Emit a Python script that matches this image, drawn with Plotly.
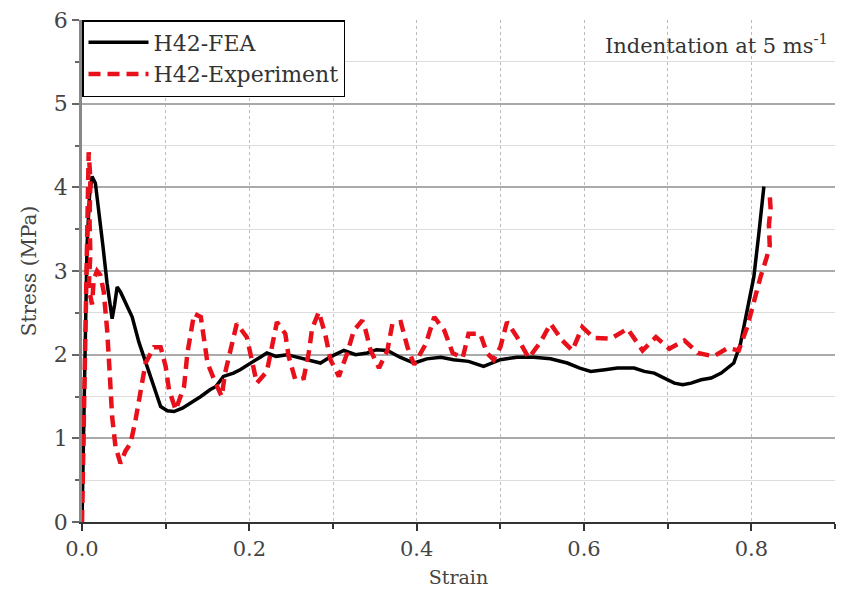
import plotly.graph_objects as go

# ---------------- data ----------------
fea_strain = [0, 0.002, 0.004, 0.006, 0.009, 0.012, 0.016, 0.020, 0.025, 0.030, 0.034, 0.036,
              0.039, 0.042, 0.046, 0.052, 0.060, 0.068, 0.078, 0.086, 0.094, 0.102, 0.110,
              0.120, 0.130, 0.142, 0.153, 0.160, 0.169, 0.181, 0.189, 0.201, 0.213, 0.221,
              0.232, 0.245, 0.261, 0.273, 0.285, 0.298, 0.313, 0.327, 0.341, 0.352, 0.365,
              0.380, 0.397, 0.412, 0.429, 0.444, 0.462, 0.480, 0.500, 0.520, 0.540, 0.560,
              0.580, 0.595, 0.608, 0.625, 0.640, 0.660, 0.672, 0.684, 0.696, 0.708, 0.718,
              0.728, 0.740, 0.752, 0.764, 0.779, 0.787, 0.795, 0.803, 0.809, 0.815]
fea_stress = [0, 1.2, 2.4, 3.3, 3.9, 4.13, 4.05, 3.75, 3.3, 2.85, 2.55, 2.43,
              2.6, 2.81, 2.75, 2.62, 2.45, 2.15, 1.86, 1.6, 1.38, 1.33, 1.32,
              1.36, 1.42, 1.50, 1.58, 1.62, 1.74, 1.78, 1.82, 1.90, 1.97, 2.02,
              1.98, 2.00, 1.96, 1.93, 1.90, 1.98, 2.05, 2.00, 2.02, 2.06, 2.05,
              1.97, 1.90, 1.95, 1.97, 1.94, 1.92, 1.86, 1.94, 1.97, 1.97, 1.95,
              1.90, 1.84, 1.80, 1.82, 1.84, 1.84, 1.80, 1.78, 1.72, 1.66, 1.64,
              1.66, 1.70, 1.72, 1.78, 1.90, 2.13, 2.53, 2.93, 3.45, 4.01]

exp_strain = [0, 0.003, 0.005, 0.006, 0.008, 0.010, 0.009, 0.010, 0.008, 0.012, 0.014, 0.018,
              0.022, 0.026, 0.030, 0.033, 0.036, 0.040, 0.046, 0.052, 0.058, 0.064, 0.070,
              0.076, 0.086, 0.094, 0.100, 0.104, 0.112, 0.122, 0.126, 0.134, 0.142, 0.150,
              0.158, 0.167, 0.171, 0.177, 0.185, 0.197, 0.203, 0.209, 0.221, 0.227, 0.233,
              0.243, 0.247, 0.255, 0.265, 0.271, 0.275, 0.283, 0.291, 0.297, 0.307, 0.317,
              0.325, 0.335, 0.339, 0.345, 0.355, 0.365, 0.371, 0.381, 0.389, 0.397, 0.411,
              0.421, 0.433, 0.443, 0.455, 0.462, 0.476, 0.484, 0.492, 0.500, 0.508, 0.520,
              0.534, 0.548, 0.560, 0.574, 0.586, 0.598, 0.612, 0.632, 0.652, 0.670, 0.686,
              0.702, 0.720, 0.736, 0.755, 0.772, 0.785, 0.795, 0.803, 0.811, 0.818, 0.822,
              0.821, 0.823, 0.822]
exp_stress = [0, 1.5, 2.7, 3.5, 4.42, 4.1, 3.6, 3.2, 2.8, 2.6, 2.9, 3.0,
              2.95, 2.75, 2.3, 1.8, 1.26, 0.90, 0.70, 0.85, 0.94, 1.22, 1.54,
              1.90, 2.09, 2.09, 1.86, 1.58, 1.34, 1.62, 2.02, 2.49, 2.45, 1.90,
              1.70, 1.50, 1.78, 2.05, 2.37, 2.21, 1.94, 1.66, 1.80, 2.09, 2.39,
              2.25, 1.98, 1.70, 1.72, 2.02, 2.31, 2.51, 2.23, 1.94, 1.74, 2.02,
              2.29, 2.41, 2.29, 2.05, 1.84, 2.05, 2.37, 2.39, 2.09, 1.88, 2.13,
              2.45, 2.29, 2.02, 1.96, 2.25, 2.25, 2.02, 1.94, 2.09, 2.39, 2.21,
              1.96, 2.15, 2.37, 2.17, 2.05, 2.33, 2.20, 2.19, 2.31, 2.05, 2.21,
              2.07, 2.17, 2.02, 1.98, 2.08, 2.05, 2.33, 2.65, 2.93, 3.15, 3.30,
              3.55, 3.75, 3.90]

x_tickvals = [0.0, 0.2, 0.4, 0.6, 0.8]
x_ticktext = ["0.0", "0.2", "0.4", "0.6", "0.8"]
y_tickvals = [0, 1, 2, 3, 4, 5, 6]

FONT = "DejaVu Serif"

fig = go.Figure()
fig.add_trace(go.Scatter(x=fea_strain, y=fea_stress, mode="lines", name="H42-FEA",
                         line=dict(color="black", width=3.5)))
fig.add_trace(go.Scatter(x=exp_strain, y=exp_stress, mode="lines", name="H42-Experiment",
                         line=dict(color="#e8101a", width=4.5, dash="12px,7px")))

fig.update_layout(
    width=841, height=600,
    margin=dict(l=82, r=6, t=20, b=78),
    plot_bgcolor="white", paper_bgcolor="white",
    font=dict(family=FONT, color="#333"),
    showlegend=True,
    legend=dict(x=0, y=1, xanchor="left", yanchor="top",
                bgcolor="white", bordercolor="black", borderwidth=1.5,
                font=dict(family=FONT, size=22, color="#333"),
                tracegroupgap=0, itemwidth=60),
    annotations=[dict(x=0.993, y=0.953, xref="paper", yref="paper",
                      xanchor="right", yanchor="middle", showarrow=False,
                      text="Indentation at 5 ms<sup>-1</sup>",
                      font=dict(family=FONT, size=21, color="#333"))],
)

fig.update_xaxes(
    range=[0, 0.9], tickvals=x_tickvals, ticktext=x_ticktext,
    showline=True, linecolor="#333", linewidth=2,
    ticks="outside", ticklen=7, tickwidth=2, tickcolor="#333",
    showgrid=True, gridcolor="#bbb", gridwidth=1, griddash="dot",
    minor=dict(dtick=0.1, tick0=0, ticks="outside", ticklen=5, tickwidth=2, tickcolor="#333",
               showgrid=True, gridcolor="#bbb", gridwidth=1, griddash="dot"),
    zeroline=False,
    tickfont=dict(family=FONT, size=21, color="#444"),
    title=dict(text="Strain", font=dict(family=FONT, size=19, color="#444"), standoff=10),
)
fig.update_yaxes(
    range=[0, 6], tickvals=y_tickvals,
    showline=True, linecolor="#888", linewidth=2.5,
    ticks="outside", ticklen=7, tickwidth=2, tickcolor="#666",
    showgrid=True, gridcolor="#aaa", gridwidth=1.5,
    minor=dict(dtick=0.5, tick0=0, ticks="outside", ticklen=4, tickwidth=2, tickcolor="#666",
               showgrid=True, gridcolor="#ddd", gridwidth=1),
    zeroline=False,
    tickfont=dict(family=FONT, size=22, color="#444"),
    title=dict(text="Stress (MPa)", font=dict(family=FONT, size=20, color="#444"), standoff=12),
)

fig.write_html("out.html")
